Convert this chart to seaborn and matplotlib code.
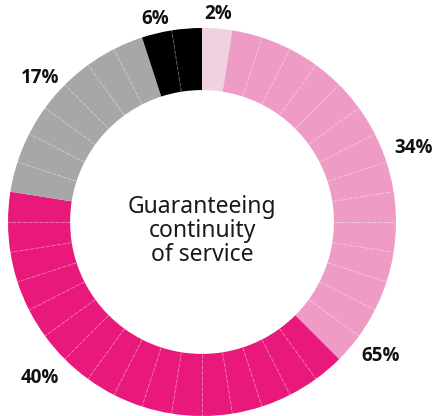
import numpy as np
import matplotlib
matplotlib.use("Agg")
import matplotlib.pyplot as plt
import seaborn as sns

sns.set_theme(style="white")
plt.rcParams['font.family'] = ['Noto Sans', 'DejaVu Sans']

# Data
categories = ["A", "B", "C", "D", "E"]
percent_labels = ["2%", "34%", "40%", "17%", "6%"]
wedge_counts = [1, 14, 16, 7, 2]          # each small wedge = 2.5%
colors = ["#EFD1E1", "#EE9BC5", "#E8197A", "#A6A7A9", "#000000"]
center_text = "Guaranteeing\ncontinuity\nof service"
extra_label = "65%"

# label layout (data coords, radius units)
label_xy = {"2%": (0.085, 1.072), "34%": (1.088, 0.381), "40%": (-0.835, -0.804),
            "17%": (-0.835, 0.742), "6%": (-0.242, 1.046), "65%": (0.923, -0.691)}

fig = plt.figure(figsize=(4.35, 4.16), dpi=100)
ax = fig.add_axes([0, 0, 1, 1])

inner = 0.68
ax.pie(wedge_counts, colors=colors, startangle=90, counterclock=False,
       radius=1.0, wedgeprops=dict(width=1 - inner, linewidth=0),
       frame=True)
ax.set_xlim(-202 / 194, (435 - 202) / 194)
ax.set_ylim(-(416 - 222) / 194, 222 / 194)
ax.axis("off")

# thin divider lines inside each segment
total = sum(wedge_counts)
start = 0
for n in wedge_counts:
    for k in range(1, n):
        frac = (start + k) / total
        ang = np.deg2rad(90 - 360 * frac)
        ax.plot([inner * np.cos(ang), np.cos(ang)], [inner * np.sin(ang), np.sin(ang)],
                color="white", alpha=0.45, lw=0.6, ls=(0, (5, 1.5)))
    start += n

for lab in percent_labels + [extra_label]:
    x, y = label_xy[lab]
    ax.text(x, y, lab, ha="center", va="center", fontsize=13.5, fontweight="bold",
            family=["Open Sans", "DejaVu Sans"], color="#111111")

ax.text(0, -0.046, center_text, ha="center", va="center", fontsize=16.5,
        color="#1a1a1a", linespacing=0.98)

fig.savefig("out.png", dpi=100)
